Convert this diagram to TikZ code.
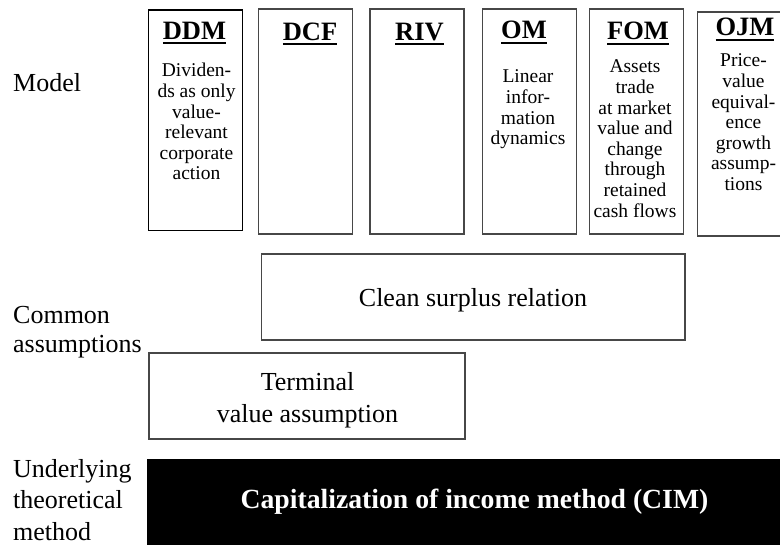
\documentclass[tikz,border=0pt]{standalone}
\usepackage{fontspec}
\setmainfont{Liberation Serif}
% bold underlined heading with a heavier rule
\newcommand\ulttl[1]{\setbox0\hbox{#1}\rlap{\rule[-4.6pt]{\wd0}{2pt}}\box0}

\begin{document}
\begin{tikzpicture}[x=1pt,y=-1pt,
  frame/.style={draw=black!72, line width=1.1pt, inner sep=0pt},
  col/.style={frame, minimum width=94pt, minimum height=225pt},
  heading/.style={font=\fontsize{26.5}{30}\selectfont\bfseries, inner sep=0pt, anchor=base},
  body/.style={font=\fontsize{19.5}{20.6}\selectfont, align=center, inner sep=0pt, anchor=north},
  side/.style={font=\fontsize{26}{29}\selectfont, align=left, inner sep=0pt, anchor=north west},
  big/.style={font=\fontsize{26}{32}\selectfont, align=center, inner sep=0pt}]
\clip (0,0) rectangle (780,545);
\fill[white] (0,0) rectangle (780,545);

% model columns
\node[col, draw=black, minimum height=220.7pt] (ddm) at (195.3,120.35) {};
\node[col] (dcf) at (305.3,121.5) {};
\node[col] (riv) at (417,121.5) {};
\node[col, minimum width=93.7pt] (om) at (529.2,121.5) {};
\node[col, minimum width=94.3pt] (fom) at (636.2,121.5) {};
\node[col, minimum width=91.3pt, minimum height=224pt] (ojm) at (743.4,124) {};

% column headings
\node[heading] (tddm) at (194.4,39.3) {\ulttl{DDM}};
\node[heading] (tdcf) at (310,40.7) {\ulttl{DCF}};
\node[heading] (triv) at (419.5,40.7) {\ulttl{RIV}};
\node[heading] (tom) at (524,39) {\ulttl{OM}};
\node[heading] (tfom) at (638,40) {\ulttl{FOM}};
\node[heading] (tojm) at (745,36) {\ulttl{OJM}};

% column descriptions
\node[body] (bddm) at (196.5,62.3) {\strut Dividen-\\ds as only\\value-\\relevant\\corporate\\action};
\node[body] (bom) at (528,68.3) {\strut Linear\\infor-\\mation\\dynamics};
\node[body] (bfom) at (635,58.3) {\strut Assets\\trade\\at market\\value and\\change\\through\\retained\\cash flows};
\node[body] (bojm) at (743.5,52.3) {\strut Price-\\value\\equival-\\ence\\growth\\assump-\\tions};

% common assumptions
\node[frame, minimum width=423.3pt, minimum height=86pt] (csr) at (473.35,297) {};
\node[big, anchor=base] (tcsr) at (473,307) {Clean surplus relation};
\node[frame, minimum width=316pt, minimum height=86pt] (tva) at (307,396) {};
\node[big, anchor=north] (ttva) at (307.5,367.6) {\strut Terminal\\value assumption};

% underlying method
\node[fill=black, inner sep=0pt, minimum width=643.3pt, minimum height=96pt] (cim) at (468.35,507) {};
\node[anchor=base, inner sep=0pt, text=white, font=\fontsize{27.7}{32}\selectfont\bfseries] (tcim) at (474.5,508) {Capitalization of income method (CIM)};

% row labels
\node[side, anchor=base west] (lmodel) at (13,92) {Model};
\node[side] (lcommon) at (13,302.7) {\strut Common\\assumptions};
\node[side, font=\fontsize{26}{31.5}\selectfont] (lunder) at (13,454.95) {\strut Underlying\\theoretical\\method};
\end{tikzpicture}
\end{document}
